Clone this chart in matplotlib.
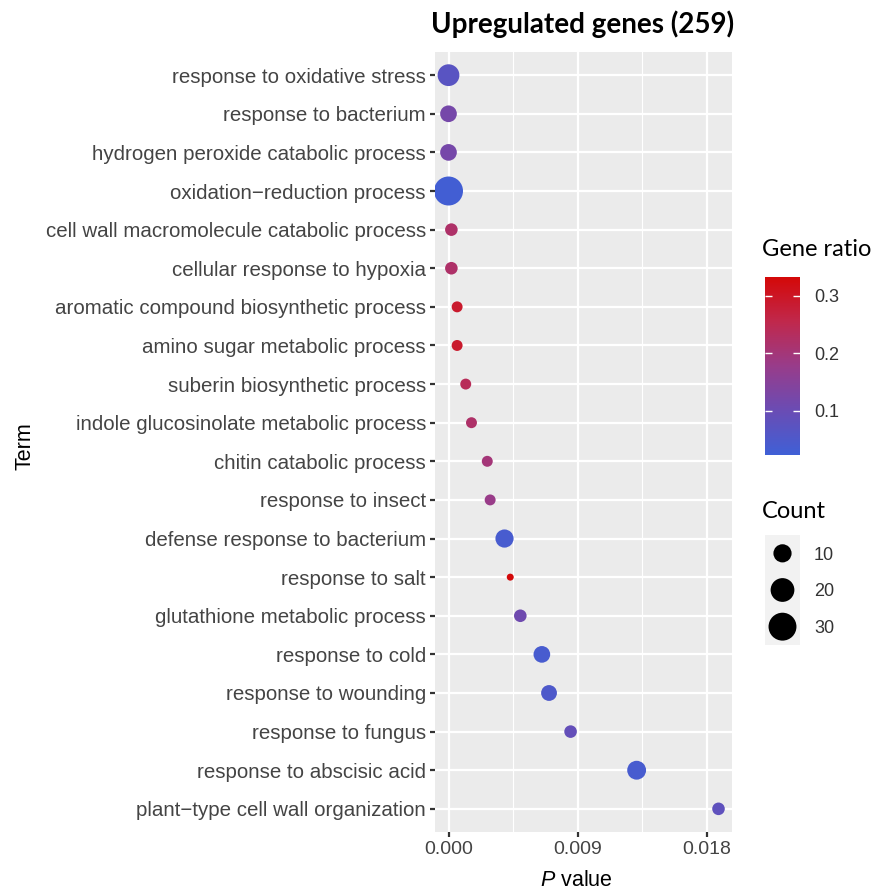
import numpy as np
import matplotlib.pyplot as plt
from matplotlib.colors import LinearSegmentedColormap

plt.rcParams['font.family'] = ['Liberation Sans', 'DejaVu Sans']
plt.rcParams['mathtext.fontset'] = 'custom'
plt.rcParams['mathtext.it'] = 'Liberation Sans:italic'
plt.rcParams['mathtext.rm'] = 'Liberation Sans'

# GO terms, top to bottom
terms = [
    "response to oxidative stress",
    "response to bacterium",
    "hydrogen peroxide catabolic process",
    "oxidation\u2212reduction process",
    "cell wall macromolecule catabolic process",
    "cellular response to hypoxia",
    "aromatic compound biosynthetic process",
    "amino sugar metabolic process",
    "suberin biosynthetic process",
    "indole glucosinolate metabolic process",
    "chitin catabolic process",
    "response to insect",
    "defense response to bacterium",
    "response to salt",
    "glutathione metabolic process",
    "response to cold",
    "response to wounding",
    "response to fungus",
    "response to abscisic acid",
    "plant\u2212type cell wall organization",
]
p_values = [0.0000, 0.0000, 0.0000, 0.0000, 0.0002, 0.0002, 0.0006, 0.0006,
            0.0012, 0.0016, 0.0027, 0.0029, 0.0039, 0.0043, 0.0050, 0.0065,
            0.0070, 0.0085, 0.0131, 0.0188]
gene_ratio = [0.07, 0.12, 0.12, 0.03, 0.22, 0.22, 0.29, 0.29, 0.24, 0.22,
              0.20, 0.18, 0.04, 0.33, 0.11, 0.04, 0.05, 0.09, 0.04, 0.08]
counts = [16, 8, 8, 33, 4, 4, 3, 3, 3, 3, 3, 3, 10, 2, 4, 8, 7, 4, 11, 4]

legend_counts = [10, 20, 30]
ratio_ticks = [0.1, 0.2, 0.3]
x_ticks = [0.0, 0.009, 0.018]
x_minor = [0.0045, 0.0135]


def dot_area(c):
    # ggplot-like area scale: diameter in px -> marker area in pt^2
    c = np.asarray(c, float)
    d = 7 + 22 * np.sqrt((c - 2) / (33 - 2))
    return (d * 0.72) ** 2


cmap = LinearSegmentedColormap.from_list(
    "gr", ["#3f60d6", "#6a4cb4", "#983c8a", "#c0284c", "#d40808"])
vmin, vmax = 0.023, 0.333

W, H = 876, 892
fig = plt.figure(figsize=(W / 100, H / 100), dpi=100)

ax = fig.add_axes([435 / W, 1 - 832 / H, (732 - 435) / W, (832 - 52) / H])
ax.set_facecolor('#EBEBEB')
y = np.arange(len(terms), 0, -1)
sc = ax.scatter(p_values, y, s=dot_area(counts), c=gene_ratio, cmap=cmap,
                vmin=vmin, vmax=vmax, edgecolors='none', zorder=3)
ax.set_ylim(0.4, len(terms) + 0.6)
ax.set_xlim(-0.00094, 0.01974)
ax.set_yticks(y, terms)
ax.set_xticks(x_ticks, ['0.000', '0.009', '0.018'])
ax.set_xticks(x_minor, minor=True)
ax.grid(which='major', color='white', linewidth=1.6)
ax.grid(which='minor', axis='x', color='white', linewidth=0.8)
ax.set_axisbelow(True)
for s in ax.spines.values():
    s.set_visible(False)
ax.tick_params(which='major', length=3.5, width=1.6, color='#333333',
               labelsize=14.8, labelcolor='#444444', pad=3)
ax.tick_params(axis='x', labelsize=14)
ax.tick_params(which='minor', length=0)

fig.text(583 / W, 1 - 24 / H, 'Upregulated genes (259)', ha='center',
         va='center', fontsize=20, fontweight='bold', family='Lato')
fig.text(25 / W, 1 - 446 / H, 'Term', rotation=90, ha='center', va='center',
         fontsize=15.5)
fig.text(576 / W, 1 - 880 / H, r'$\mathit{P}$ value', ha='center',
         va='center', fontsize=15.5)

# colour legend
cax = fig.add_axes([765 / W, 1 - 455 / H, 35 / W, (455 - 277) / H])
cb = fig.colorbar(sc, cax=cax, ticks=ratio_ticks)
cb.outline.set_visible(False)
cax.yaxis.set_ticks_position('both')
cax.tick_params(direction='in', length=5, width=1, color='white',
                labelsize=13, labelcolor='#333333', pad=10)
cax.set_yticklabels([f'{t:.1f}' for t in ratio_ticks])
fig.text(762 / W, 1 - 250 / H, 'Gene ratio', ha='left', va='center',
         fontsize=17, family='Lato')

# size legend
lax = fig.add_axes([765 / W, 1 - 645 / H, 35 / W, 110 / H])
lax.set_facecolor('#F2F2F2')
ly = np.arange(len(legend_counts), 0, -1)
lax.scatter([0] * len(legend_counts), ly, s=dot_area(legend_counts),
            color='black', edgecolors='none')
lax.set_xlim(-1, 1)
lax.set_ylim(0.5, len(legend_counts) + 0.5)
lax.set_xticks([])
lax.yaxis.tick_right()
lax.set_yticks(ly, [str(c) for c in legend_counts])
lax.tick_params(length=0, labelsize=13, labelcolor='#333333', pad=10)
for s in lax.spines.values():
    s.set_visible(False)
fig.text(762 / W, 1 - 511 / H, 'Count', ha='left', va='center',
         fontsize=17, family='Lato')

fig.savefig('out.png', dpi=100)
